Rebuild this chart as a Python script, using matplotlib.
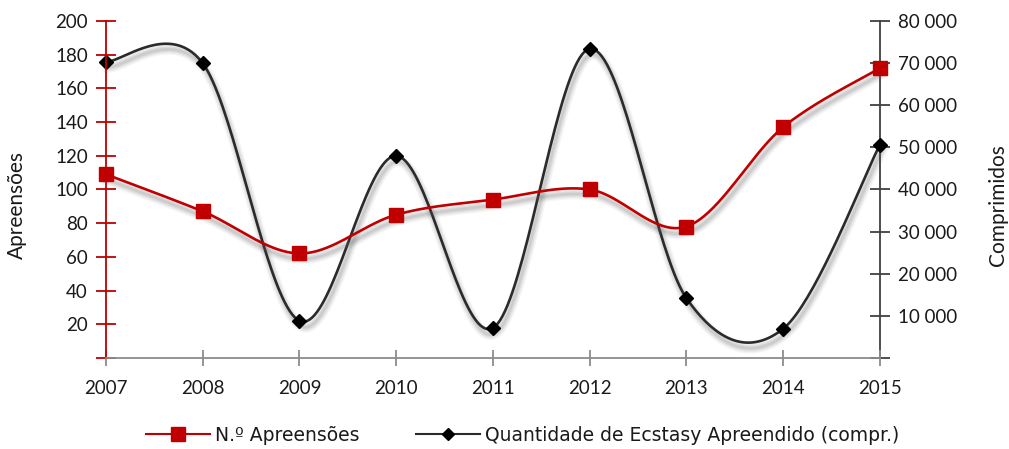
import numpy as np
import matplotlib
matplotlib.use("Agg")
import matplotlib.pyplot as plt
from matplotlib import patheffects as pe

plt.rcParams['font.family'] = ['Lato', 'DejaVu Sans']

years = [2007, 2008, 2009, 2010, 2011, 2012, 2013, 2014, 2015]
apreensoes = [109, 87, 62, 85, 94, 100, 78, 137, 172]
comprimidos = [70300, 70000, 8800, 48000, 7100, 73400, 14200, 6900, 50600]

left_ticks = list(range(0, 201, 20))
right_ticks = list(range(0, 80001, 10000))

RED = '#C00000'
DARK = '#2b2b2b'
AXIS_GRAY = '#8c8c8c'
TEXT = '#1a1a1a'


def smooth(xs, ys, n=40):
    """Catmull-Rom style Bezier smoothing through every point."""
    xs = np.asarray(xs, float)
    ys = np.asarray(ys, float)
    px = np.concatenate([[xs[0]], xs, [xs[-1]]])
    py = np.concatenate([[ys[0]], ys, [ys[-1]]])
    ox, oy = [], []
    t = np.linspace(0, 1, n)
    for i in range(1, len(px) - 2):
        p0x, p1x, p2x, p3x = px[i - 1], px[i], px[i + 1], px[i + 2]
        p0y, p1y, p2y, p3y = py[i - 1], py[i], py[i + 1], py[i + 2]
        c1x, c1y = p1x + (p2x - p0x) / 6, p1y + (p2y - p0y) / 6
        c2x, c2y = p2x - (p3x - p1x) / 6, p2y - (p3y - p1y) / 6
        bx = (1 - t) ** 3 * p1x + 3 * (1 - t) ** 2 * t * c1x + 3 * (1 - t) * t ** 2 * c2x + t ** 3 * p2x
        by = (1 - t) ** 3 * p1y + 3 * (1 - t) ** 2 * t * c1y + 3 * (1 - t) * t ** 2 * c2y + t ** 3 * p2y
        ox.append(bx if i == 1 else bx[1:])
        oy.append(by if i == 1 else by[1:])
    return np.concatenate(ox), np.concatenate(oy)


# soft drop shadow: several faint offset strokes stacked
def soft_shadow(base_width):
    effects = []
    for w, a in [(base_width + 6, 0.05), (base_width + 4, 0.08), (base_width + 2, 0.10), (base_width, 0.12)]:
        effects.append(pe.SimpleLineShadow(offset=(1.5, -4), shadow_color='#606060', alpha=a, linewidth=w))
    effects.append(pe.Normal())
    return effects


fig = plt.figure(figsize=(10.09, 4.49), dpi=100)
ax = fig.add_axes([0.105, 0.203, 0.767, 0.750])
ax2 = ax.twinx()

sx, sy = smooth(years, comprimidos)
ax2.plot(sx, sy, color=DARK, lw=1.9, clip_on=False, path_effects=soft_shadow(1.9), zorder=2)
ax2.plot(years, comprimidos, ls='none', marker='D', ms=7, color='black', clip_on=False, zorder=3)

rx, ry = smooth(years, apreensoes)
ax.plot(rx, ry, color=RED, lw=1.9, clip_on=False, path_effects=soft_shadow(1.9), zorder=2)
ax.plot(years, apreensoes, ls='none', marker='s', ms=10, color=RED, clip_on=False, zorder=3)

ax.set_zorder(ax2.get_zorder() + 1)
ax.patch.set_visible(False)

ax.set_xlim(2007, 2015)
ax.set_ylim(0, 200)
ax2.set_ylim(0, 80000)

ax.set_xticks(years)
ax.set_xticklabels([str(y) for y in years])
ax.set_yticks(left_ticks)
ax.set_yticklabels(['' if v == 0 else str(v) for v in left_ticks])
ax2.set_yticks(right_ticks)
ax2.set_yticklabels(['' if v == 0 else f'{v:,}'.replace(',', ' ') for v in right_ticks])

for a in (ax, ax2):
    a.spines['top'].set_visible(False)
ax.spines['right'].set_visible(False)
ax2.spines['left'].set_visible(False)
ax2.spines['bottom'].set_visible(False)
ax.spines['left'].set_color(RED)
ax.spines['left'].set_linewidth(1.3)
ax.spines['bottom'].set_color(AXIS_GRAY)
ax.spines['bottom'].set_linewidth(1.3)
ax2.spines['right'].set_color('#404040')
ax2.spines['right'].set_linewidth(1.3)

ax.tick_params(axis='y', direction='inout', length=14, width=1.3, color=RED, labelsize=13.5, pad=6, labelcolor=TEXT)
ax.tick_params(axis='x', direction='inout', length=12, width=1.3, color=AXIS_GRAY, labelsize=13.5, pad=10, labelcolor=TEXT)
ax2.tick_params(axis='y', direction='inout', length=14, width=1.3, color='#404040', labelsize=13.5, pad=6, labelcolor=TEXT)

ax.set_ylabel('Apreensões', fontsize=15, color=TEXT)
ax2.set_ylabel('Comprimidos', fontsize=15, rotation=90, color=TEXT)
ax.yaxis.set_label_coords(-0.102, 0.455)
ax2.yaxis.set_label_coords(1.140, 0.455)

h1 = plt.Line2D([], [], color=RED, lw=1.5, marker='s', ms=10)
h2 = plt.Line2D([], [], color=DARK, lw=1.5, marker='D', ms=6, markerfacecolor='black', markeredgecolor='black')
fig.legend([h1, h2], ['N.º Apreensões', 'Quantidade de Ecstasy Apreendido (compr.)'],
           loc='center', bbox_to_anchor=(0.518, 0.03), ncol=2, frameon=False,
           prop={'family': 'DejaVu Sans', 'size': 13.5},
           handlelength=3.4, columnspacing=3.0, handletextpad=0.3, labelcolor=TEXT)

fig.savefig('out.png', dpi=100)
